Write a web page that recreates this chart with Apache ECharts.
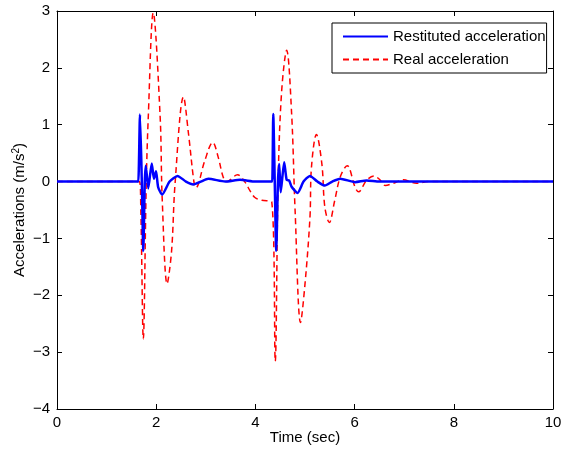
<!DOCTYPE html>
<html>
<head>
<meta charset="utf-8">
<script src="https://cdn.jsdelivr.net/npm/echarts@6/dist/echarts.min.js"></script>
<style>html,body{margin:0;padding:0;background:#fff}#c{width:562px;height:452px}</style>
</head>
<body>
<div id="c"></div>
<script>
// Time (s) and values (m/s^2)
var restitutedT = [0, 1.62, 1.64, 1.673, 1.71, 1.74, 1.77, 1.79, 1.84, 1.91, 1.955, 1.996, 2.04, 2.12, 2.27, 2.43, 2.6, 2.75, 2.9, 3.05, 3.39, 3.69, 4.0, 4.32,
  4.34, 4.36, 4.39, 4.42, 4.455, 4.48, 4.51, 4.58, 4.63, 4.68, 4.73, 4.85, 4.97, 5.1, 5.25, 5.4, 5.55, 5.71, 6.01, 6.24, 6.5, 10];
var restitutedV = [0, 0, 0, 1.18, 0, -1.22, 0, 0.28, -0.12, 0.32, 0.05, 0.18, -0.1, -0.23, 0, 0.1, 0, -0.05, 0, 0.05, 0.0, 0.03, 0, 0,
  0, 1.19, 0, -1.22, 0, 0.31, -0.19, 0.34, 0.03, 0.02, -0.09, -0.2, 0, 0.1, 0, -0.07, 0, 0.05, -0.01, 0.02, 0, 0];

var realT = [0, 1.66, 1.69, 1.74, 1.80, 1.84, 1.94, 2.08, 2.12, 2.22, 2.31, 2.38, 2.55, 2.65, 2.76, 2.80, 2.98, 3.14, 3.25, 3.35, 3.42, 3.64, 3.79, 3.89, 3.99, 4.13, 4.33,
  4.40, 4.46, 4.53, 4.63, 4.73, 4.80, 4.91, 5.0, 5.1, 5.13, 5.23, 5.34, 5.40, 5.49, 5.60, 5.71, 5.85, 6.01, 6.08, 6.24, 6.39, 6.50, 6.62, 6.78, 6.98, 7.25, 7.48, 8, 10];
var realV = [0, 0, -0.5, -2.77, 0, 1.13, 2.97, 1.13, -0.28, -1.8, -1.22, -0.04, 1.49, 0.85, 0.0, -0.11, 0.37, 0.69, 0.43, 0.08, 0.0, 0.12, -0.01, -0.16, -0.28, -0.33, -0.36,
  -3.16, 0.08, 1.6, 2.31, 1.2, -0.5, -2.48, -1.8, -0.63, 0.25, 0.83, 0.31, -0.45, -0.72, -0.33, 0.08, 0.28, -0.1, -0.18, 0.02, 0.1, 0.04, -0.07, -0.03, 0.03, -0.03, 0.0, 0, 0];

var xTicks = {min: 0, max: 10, interval: 2};
var yTicks = {min: -4, max: 3, interval: 1};

function pairs(t, v) { return t.map(function (x, i) { return [x, v[i]]; }); }
function minusFmt(v) { return String(v).replace('-', '\u2212'); }

var FONT = 'Liberation Sans';
var FS = 15;
var chart = echarts.init(document.getElementById('c'), null, {renderer: 'canvas'});
var axisCommon = {
  type: 'value',
  axisLine: {show: true, onZero: false, lineStyle: {color: '#000', width: 1}},
  axisTick: {show: true, inside: true, length: 5, lineStyle: {color: '#000'}},
  splitLine: {show: false}
};
chart.setOption({
  animation: false,
  textStyle: {fontFamily: FONT},
  grid: {left: 57, right: 9, top: 11, bottom: 43, containLabel: false, outerBoundsMode: 'none'},
  legend: {
    orient: 'vertical', left: 332, top: 23,
    padding: [6, 1, 6, 10], itemGap: 8, itemWidth: 45, itemHeight: 14,
    borderColor: '#000', borderWidth: 1, backgroundColor: '#fff', borderRadius: 0,
    itemStyle: {opacity: 0},
    textStyle: {fontSize: FS, color: '#000', fontFamily: FONT},
    data: ['Restituted acceleration', 'Real acceleration']
  },
  xAxis: [
    Object.assign({}, axisCommon, {
      min: xTicks.min, max: xTicks.max, interval: xTicks.interval, position: 'bottom',
      name: 'Time (sec)', nameLocation: 'middle', nameGap: 21, nameMoveOverlap: false,
      nameTextStyle: {fontSize: FS, color: '#000', fontFamily: FONT},
      axisLabel: {fontSize: FS, color: '#000', margin: 6, formatter: minusFmt}
    }),
    Object.assign({}, axisCommon, {
      min: xTicks.min, max: xTicks.max, interval: xTicks.interval, position: 'top',
      axisLabel: {show: false}
    })
  ],
  yAxis: [
    Object.assign({}, axisCommon, {
      min: yTicks.min, max: yTicks.max, interval: yTicks.interval, position: 'left',
      name: '{a|Accelerations (m/s}{s|2}{a|)}', nameLocation: 'middle', nameGap: 28, nameMoveOverlap: false,
      nameTextStyle: {
        fontSize: FS, color: '#000', fontFamily: FONT,
        rich: {
          a: {fontSize: FS, color: '#000', fontFamily: FONT, lineHeight: 18},
          s: {fontSize: 10, color: '#000', fontFamily: FONT, verticalAlign: 'top', lineHeight: 18}
        }
      },
      axisLabel: {fontSize: FS, color: '#000', margin: 7, formatter: minusFmt}
    }),
    Object.assign({}, axisCommon, {
      min: yTicks.min, max: yTicks.max, interval: yTicks.interval, position: 'right',
      axisLabel: {show: false}
    })
  ],
  series: [
    {
      name: 'Restituted acceleration', type: 'line', xAxisIndex: 0, yAxisIndex: 0,
      data: pairs(restitutedT, restitutedV), symbol: 'none', smooth: 0.2, z: 3,
      lineStyle: {color: '#0000ff', width: 2.5}, itemStyle: {color: '#0000ff'}
    },
    {
      name: 'Real acceleration', type: 'line', xAxisIndex: 0, yAxisIndex: 0,
      data: pairs(realT, realV), symbol: 'none', smooth: 0.35, z: 2,
      lineStyle: {color: '#ff0000', width: 1.5, type: [6, 4]}, itemStyle: {color: '#ff0000'}
    }
  ]
});
</script>
</body>
</html>
